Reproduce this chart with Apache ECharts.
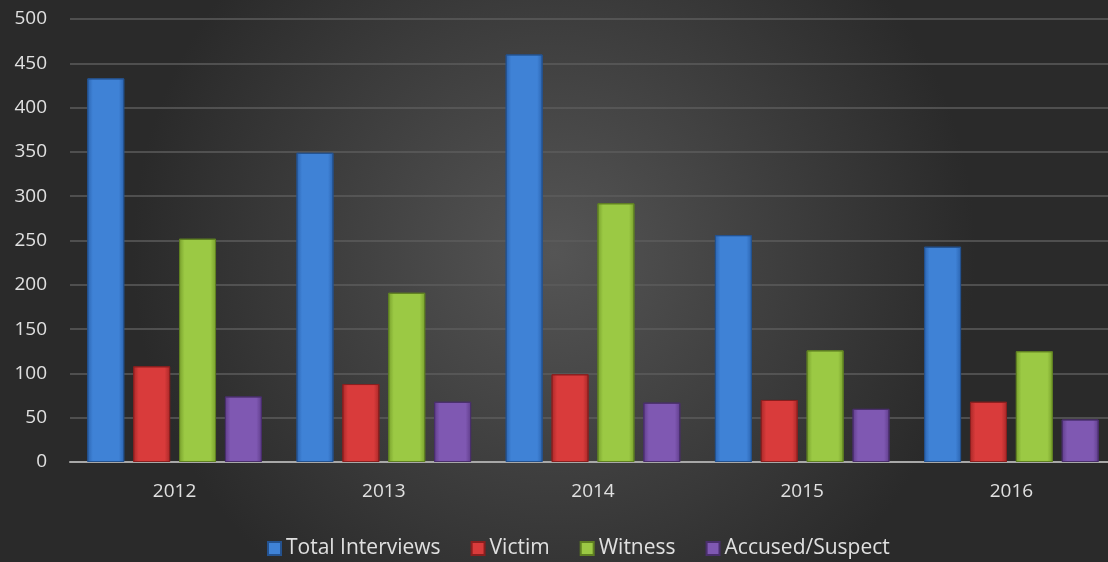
<!DOCTYPE html>
<html>
<head>
<meta charset="utf-8">
<script src="https://cdn.jsdelivr.net/npm/echarts@6/dist/echarts.min.js"></script>
<style>
  html, body { margin: 0; padding: 0; background: #333; }
  #main { width: 1108px; height: 562px; }
</style>
</head>
<body>
<div id="main"></div>
<script>
// chart data
const years = ['2012', '2013', '2014', '2015', '2016'];
const totalInterviews = [433, 349, 460, 256, 243];
const victim = [108, 88, 99, 70, 68];
const witness = [252, 191, 292, 126, 125];
const accused = [74, 68, 67, 60, 48];

const chart = echarts.init(document.getElementById('main'));

// bevel-ish bar fill: darker edges, lighter middle
function barFill(edge, mid) {
  return new echarts.graphic.LinearGradient(0, 0, 1, 0, [
    { offset: 0, color: edge },
    { offset: 0.15, color: mid },
    { offset: 0.85, color: mid },
    { offset: 1, color: edge }
  ]);
}

function makeSeries(name, data, edge, mid, border) {
  return {
    name: name,
    type: 'bar',
    data: data,
    barWidth: 37,
    barGap: '24%',
    itemStyle: {
      color: barFill(edge, mid),
      borderColor: border,
      borderWidth: 1
    }
  };
}

const option = {
  backgroundColor: new echarts.graphic.RadialGradient(0.5, 0.45, 0.75, [
    { offset: 0, color: '#555555' },
    { offset: 1, color: '#2a2a2a' }
  ]),
  textStyle: { fontFamily: 'Open Sans' },
  // plot area runs a bit past the right edge, like the original
  grid: { left: 70, top: 19, width: 1046, height: 443, outerBoundsMode: 'none', containLabel: false },
  legend: {
    bottom: -2,
    left: 262,
    itemWidth: 13,
    itemHeight: 13,
    itemGap: 30,
    icon: 'rect',
    textStyle: { color: '#e0e0e0', fontSize: 21, fontFamily: 'Open Sans' },
    data: ['Total Interviews', 'Victim', 'Witness', 'Accused/Suspect']
  },
  xAxis: {
    type: 'category',
    data: years,
    axisLine: { lineStyle: { color: '#a8a8a8', width: 2 } },
    axisTick: { show: false },
    axisLabel: { color: '#e0e0e0', fontSize: 19, margin: 20 }
  },
  yAxis: {
    type: 'value',
    min: 0,
    max: 500,
    interval: 50,
    axisLine: { show: false },
    axisTick: { show: false },
    axisLabel: { color: '#e0e0e0', fontSize: 19, margin: 23 },
    splitLine: { lineStyle: { color: '#5c5c5c', width: 1.5 } }
  },
  series: [
    makeSeries('Total Interviews', totalInterviews, '#2b64b0', '#3f82d6', '#24528f'),
    makeSeries('Victim', victim, '#a82828', '#d93b3b', '#8a1f1f'),
    makeSeries('Witness', witness, '#78a02c', '#9bc944', '#5f8022'),
    makeSeries('Accused/Suspect', accused, '#5f3d8a', '#7f58b2', '#4a2f6c')
  ]
};

chart.setOption(option);
</script>
</body>
</html>
